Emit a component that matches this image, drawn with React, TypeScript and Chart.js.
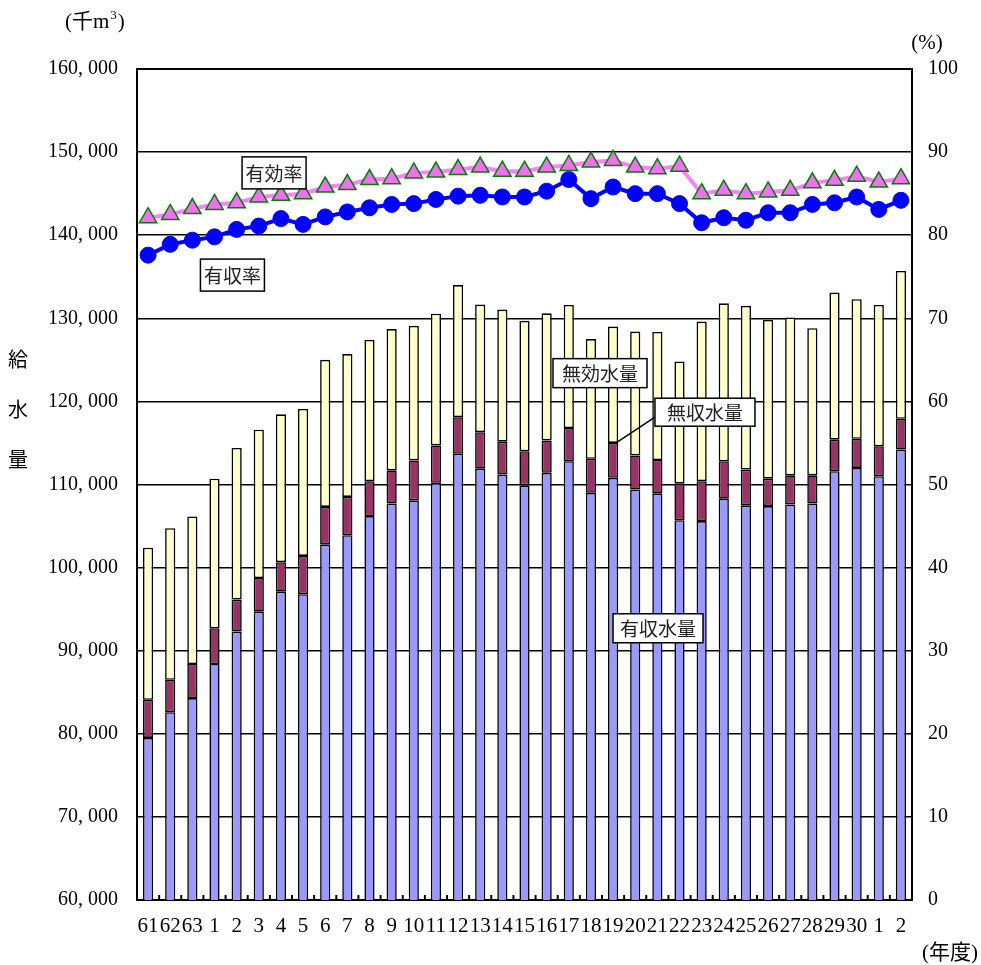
import React, { useEffect, useRef } from 'react';
import { Chart, registerables } from 'chart.js';

Chart.register(...registerables);

// 年度 (昭和61〜平成30, 令和1〜2)
const categories = [
  '61', '62', '63', '1', '2', '3', '4', '5', '6', '7', '8', '9', '10', '11', '12', '13', '14', '15',
  '16', '17', '18', '19', '20', '21', '22', '23', '24', '25', '26', '27', '28', '29', '30', '1', '2',
];

// 有収水量 (千m3)
const revenueWater = [
  79500, 82600, 84300, 88400, 92300, 94700, 97100, 96800, 102800, 103900, 106200, 107700, 108100,
  110200, 113700, 111900, 111200, 109900, 111400, 112800, 109000, 110800, 109400, 108900, 105700,
  105600, 108300, 107500, 107400, 107600, 107700, 111600, 112000, 111000, 114200,
];

// 無収水量 (千m3)
const nonRevenueWater = [
  4600, 3900, 4100, 4300, 3850, 4050, 3550, 4600, 4500, 4600, 4200, 4000, 4800, 4500, 4400, 4400,
  3950, 4100, 3900, 4000, 4100, 4200, 4100, 4050, 4400, 4800, 4500, 4300, 3300, 3500, 3400, 3800,
  3500, 3600, 3700,
];

// 無効水量 (千m3)
const invalidWater = [
  18300, 18250, 17750, 18000, 18250, 17850, 17800, 17700, 17700, 17200, 17000, 17000, 16200, 15850,
  15900, 15350, 15900, 15700, 15300, 14800, 14400, 14000, 14900, 15400, 14700, 19200, 19000, 19700,
  19100, 19000, 17700, 17700, 16800, 17000, 17800,
];

// 有効率 (%)
const effectiveRate = [
  82.1, 82.5, 83.2, 83.7, 83.9, 84.6, 84.8, 85.0, 85.8, 86.1, 86.7, 86.8, 87.5, 87.6, 87.9, 88.2,
  87.7, 87.7, 88.2, 88.4, 88.8, 89.0, 88.2, 88.0, 88.3, 85.0, 85.4, 85.0, 85.2, 85.4, 86.3, 86.6,
  87.1, 86.4, 86.8,
];

// 有収率 (%)
const revenueRate = [
  77.6, 78.9, 79.4, 79.8, 80.7, 81.1, 82.0, 81.3, 82.2, 82.8, 83.3, 83.7, 83.8, 84.3, 84.7, 84.8,
  84.6, 84.6, 85.3, 86.7, 84.4, 85.8, 85.0, 85.0, 83.8, 81.5, 82.1, 81.8, 82.7, 82.7, 83.7, 83.9,
  84.6, 83.1, 84.2,
];

const leftTickLabels = [
  '60, 000', '70, 000', '80, 000', '90, 000', '100, 000', '110, 000', '120, 000', '130, 000',
  '140, 000', '150, 000', '160, 000',
];
const rightTickLabels = ['0', '10', '20', '30', '40', '50', '60', '70', '80', '90', '100'];

const SERIF = "'Liberation Serif', 'DejaVu Serif', 'Noto Sans CJK JP', serif";
const GOTHIC = "'Noto Sans CJK JP', 'Noto Sans', sans-serif";

type BoxLabel = {
  text: string;
  at: number;
  value: number;
  axis: 'y' | 'y2';
  width: number;
  height: number;
  pointer?: number;
};

const boxLabels: BoxLabel[] = [
  { text: '有効率', at: 5.69, value: 87.5, axis: 'y2', width: 64, height: 32 },
  { text: '有収率', at: 3.81, value: 75.2, axis: 'y2', width: 64, height: 32 },
  { text: '無効水量', at: 20.41, value: 123400, axis: 'y', width: 94, height: 29 },
  { text: '無収水量', at: 25.15, value: 118700, axis: 'y', width: 100, height: 28, pointer: 21 },
  { text: '有収水量', at: 23.03, value: 92700, axis: 'y', width: 90, height: 29 },
];

const overlayPlugin = {
  id: 'overlay',
  afterDatasetsDraw(chart: any) {
    const { ctx, chartArea, scales } = chart;
    const xs = scales.x;
    ctx.save();
    ctx.strokeStyle = '#000';
    ctx.lineWidth = 2;
    for (let i = 1; i < categories.length; i++) {
      const x = (xs.getPixelForValue(i - 1) + xs.getPixelForValue(i)) / 2;
      ctx.beginPath();
      ctx.moveTo(x, chartArea.bottom);
      ctx.lineTo(x, chartArea.bottom - 5);
      ctx.stroke();
    }
    for (const b of boxLabels) {
      const cx = xs.getPixelForValue(b.at);
      const cy = scales[b.axis].getPixelForValue(b.value);
      const left = cx - b.width / 2;
      const top = cy - b.height / 2;
      if (b.pointer !== undefined) {
        const px = xs.getPixelForValue(b.pointer) + 3;
        const py = scales.y.getPixelForValue(revenueWater[b.pointer] + nonRevenueWater[b.pointer]);
        ctx.beginPath();
        ctx.lineWidth = 1.5;
        ctx.moveTo(left, cy + 5);
        ctx.lineTo(px, py);
        ctx.stroke();
      }
      ctx.fillStyle = '#fff';
      ctx.fillRect(left, top, b.width, b.height);
      ctx.lineWidth = 1.5;
      ctx.strokeStyle = '#000';
      ctx.strokeRect(left, top, b.width, b.height);
      ctx.fillStyle = '#222';
      ctx.font = `19px ${GOTHIC}`;
      ctx.textAlign = 'center';
      ctx.textBaseline = 'middle';
      ctx.fillText(b.text, cx, cy + 1);
    }
    ctx.restore();
  },
  afterDraw(chart: any) {
    const { ctx, chartArea } = chart;
    ctx.save();
    ctx.fillStyle = '#000';
    ctx.font = `21px ${SERIF}`;
    ctx.textBaseline = 'middle';
    // (千m3) with superscript 3
    const ux = chartArea.left - 72;
    const uy = chartArea.top - 47;
    ctx.textAlign = 'left';
    const part1 = '(千m';
    ctx.fillText(part1, ux, uy);
    const w1 = ctx.measureText(part1).width;
    ctx.font = `13px ${SERIF}`;
    ctx.fillText('3', ux + w1 + 1, uy - 6);
    const w2 = ctx.measureText('3').width;
    ctx.font = `21px ${SERIF}`;
    ctx.fillText(')', ux + w1 + w2 + 2, uy);
    ctx.textAlign = 'center';
    ctx.fillText('(%)', chartArea.right + 15, chartArea.top - 26);
    ctx.fillText('(年度)', chartArea.right + 38, chartArea.bottom + 53);
    const title = ['給', '水', '量'];
    ctx.font = `20px ${SERIF}`;
    title.forEach((ch, i) => {
      ctx.fillText(ch, 18, 362 + i * 50);
    });
    ctx.restore();
  },
};

export default function App() {
  const ref = useRef<HTMLCanvasElement>(null);

  useEffect(() => {
    const yFont = { size: 20, family: SERIF };
    const xFont = { size: 21, family: SERIF };
    const barCommon = {
      type: 'bar',
      yAxisID: 'y',
      order: 1,
      borderColor: '#000',
      borderWidth: 1.6,
      borderSkipped: false,
      barPercentage: 0.46,
      categoryPercentage: 1,
    };
    const chart = new Chart(ref.current as HTMLCanvasElement, {
      type: 'bar',
      data: {
        labels: categories,
        datasets: [
          {
            type: 'line',
            label: '有効率',
            data: effectiveRate,
            yAxisID: 'y2',
            order: 0,
            borderColor: '#FF80FF',
            borderWidth: 4,
            pointStyle: 'triangle',
            pointRadius: 10,
            pointBackgroundColor: '#F070F0',
            pointBorderColor: '#008000',
            pointBorderWidth: 1.5,
            tension: 0,
          },
          {
            type: 'line',
            label: '有収率',
            data: revenueRate,
            yAxisID: 'y2',
            order: 0,
            borderColor: '#0000FF',
            borderWidth: 4,
            pointStyle: 'circle',
            pointRadius: 8,
            pointBackgroundColor: '#0000FF',
            pointBorderColor: '#0000FF',
            pointBorderWidth: 1,
            tension: 0,
          },
          { ...barCommon, label: '有収水量', data: revenueWater, backgroundColor: '#9999FF' },
          { ...barCommon, label: '無収水量', data: nonRevenueWater, backgroundColor: '#993366' },
          { ...barCommon, label: '無効水量', data: invalidWater, backgroundColor: '#FFFFCC' },
        ],
      } as any,
      options: {
        responsive: false,
        animation: false,
        layout: { padding: { top: 69, left: 0, right: 0, bottom: 0 } },
        plugins: {
          legend: { display: false },
          title: { display: false },
          tooltip: { enabled: false },
        },
        scales: {
          x: {
            stacked: true,
            offset: true,
            grid: { display: false },
            border: { display: true, color: '#000', width: 2 },
            ticks: {
              autoSkip: false,
              maxRotation: 0,
              minRotation: 0,
              font: xFont,
              color: '#000',
              padding: 6,
            },
            afterFit: (s: any) => {
              s.height = 65;
            },
          },
          y: {
            stacked: true,
            position: 'left',
            min: 60000,
            max: 160000,
            ticks: {
              stepSize: 10000,
              callback: (_v: any, i: number) => leftTickLabels[i],
              font: yFont,
              color: '#000',
              padding: 19,
            },
            grid: {
              color: '#000',
              lineWidth: (c: any) => (c.tick && c.tick.value === 160000 ? 2 : 1.5),
              drawTicks: false,
            },
            border: { display: true, color: '#000', width: 2 },
            afterFit: (s: any) => {
              s.width = 137;
            },
          },
          y2: {
            position: 'right',
            min: 0,
            max: 100,
            ticks: {
              stepSize: 10,
              callback: (_v: any, i: number) => rightTickLabels[i],
              font: yFont,
              color: '#000',
              padding: 16,
            },
            grid: { drawOnChartArea: false, drawTicks: false },
            border: { display: true, color: '#000', width: 2 },
            afterFit: (s: any) => {
              s.width = 69;
            },
          },
        },
      } as any,
      plugins: [overlayPlugin],
    });
    return () => chart.destroy();
  }, []);

  return (
    <div
      style={{
        position: 'fixed',
        left: 0,
        top: 0,
        width: 981,
        height: 965,
        background: '#fff',
      }}
    >
      <canvas ref={ref} width={981} height={965} style={{ display: 'block', width: 981, height: 965 }} />
    </div>
  );
}
